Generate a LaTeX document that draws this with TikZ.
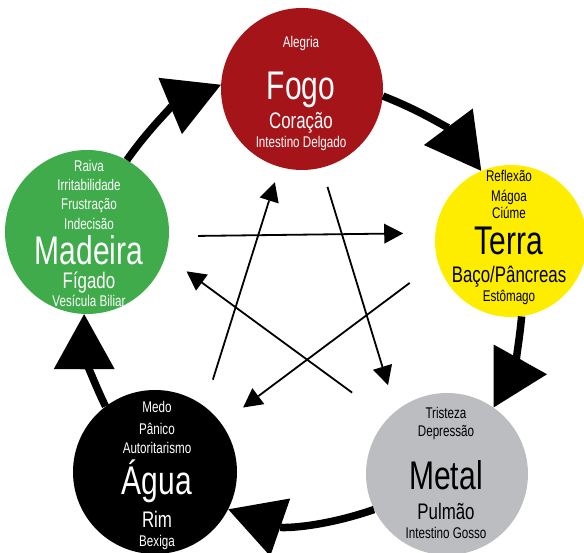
\documentclass[tikz,border=0pt]{standalone}
\usepackage{fontspec}
\newfontfamily\condfont{Liberation Sans}[FakeStretch=0.75]
\usepackage{tikz}
\usetikzlibrary{calc,arrows.meta}
\definecolor{fogored}{HTML}{A51419}
\definecolor{terrayellow}{HTML}{FFED00}
\definecolor{madeiragreen}{HTML}{3FAB4A}
\definecolor{metalgray}{HTML}{BCBDC0}
\newcommand\smalltxt{\condfont\fontsize{15.5}{18}\selectfont}
\newcommand\midtxt{\condfont\fontsize{22.5}{26}\selectfont}
\newcommand\bigtxt{\condfont\fontsize{40}{44}\selectfont}
\tikzset{
  elem/.style={circle, inner sep=0pt, minimum size=#1},
  txtline/.style={anchor=base, inner sep=0pt},
  cyclearr/.style={line width=7.5pt,
    -{Triangle[length=55pt,width=61pt,line width=0pt]}},
  stararr/.style={line width=1.8pt,
    -{Triangle[length=19pt,width=20pt,line width=0pt]}},
}

\begin{document}
\begin{tikzpicture}[x=1pt,y=1pt]
\useasboundingbox (0,0) rectangle (584,553);
\node[elem=162pt, fill=fogored] (fogo) at (302,464) {};
\node[elem=152pt, fill=terrayellow] (terra) at (511,312) {};
\node[elem=164pt, fill=madeiragreen] (madeira) at (87,321) {};
\node[elem=164pt, fill=black] (agua) at (155,81) {};
\node[elem=162pt, fill=metalgray] (metal) at (447,79) {};
% texts inside the circles
\foreach \dy/\f/\t [count=\i] in {41/\smalltxt/Alegria,-11/\bigtxt/Fogo,
    -40/\midtxt/Coração,-59/\smalltxt/Intestino Delgado}
  \node[txtline, white, font=\f] (fogo-\i) at ($(fogo)+(-1,\dy)$) {\t};
\foreach \dy/\f/\t [count=\i] in {59/\smalltxt/Reflexão,39/\smalltxt/Mágoa,
    22/\smalltxt/Ciúme,-14/\bigtxt/Terra,-42/\midtxt/{Baço/Pâncreas},
    -61/\smalltxt/Estômago}
  \node[txtline, black, font=\f] (terra-\i) at ($(terra)+(-2,\dy)$) {\t};
\foreach \dy/\f/\t [count=\i] in {60/\smalltxt/Raiva,41/\smalltxt/Irritabilidade,
    22/\smalltxt/Frustração,2/\smalltxt/Indecisão,-33/\bigtxt/Madeira,
    -57/\midtxt/Fígado,-75/\smalltxt/Vesícula Biliar}
  \node[txtline, white, font=\f] (madeira-\i) at ($(madeira)+(2,\dy)$) {\t};
\foreach \dy/\f/\t [count=\i] in {59/\smalltxt/Medo,37/\smalltxt/Pânico,
    18/\smalltxt/Autoritarismo,-23/\bigtxt/Água,-56/\midtxt/Rim,
    -75/\smalltxt/Bexiga}
  \node[txtline, white, font=\f] (agua-\i) at ($(agua)+(2,\dy)$) {\t};
\foreach \dy/\f/\t [count=\i] in {55/\smalltxt/Tristeza,37/\smalltxt/Depressão,
    -16/\bigtxt/Metal,-46/\midtxt/Pulmão,-65/\smalltxt/Intestino Gosso}
  \node[txtline, black, font=\f] (metal-\i) at ($(metal)+(-1,\dy)$) {\t};
% generating cycle
\draw[cyclearr] (fogo.-5) to[bend left=16] (terra.113);
\draw[cyclearr] (terra.-82) to[bend left=12] (metal.55);
\draw[cyclearr] (metal.206) to[bend left=19] (agua.-27);
\draw[cyclearr] (agua.127) to[bend left=13] (madeira.-92);
\draw[cyclearr] (madeira.61) to[bend left=16] (fogo.177);
% control cycle
\draw[stararr, shorten <=29pt, shorten >=32pt] (madeira.-3) -- (terra.174);
\draw[stararr, shorten <=28pt, shorten >=16pt] (agua.53) -- (fogo.-106);
\draw[stararr, shorten <=20pt, shorten >=27pt] (fogo.-76) -- (metal.129);
\draw[stararr, shorten <=35pt, shorten >=27pt] (terra.196) -- (agua.36);
\draw[stararr, shorten <=44pt, shorten >=26pt] (metal.137) -- (madeira.-17);
\end{tikzpicture}
\end{document}
